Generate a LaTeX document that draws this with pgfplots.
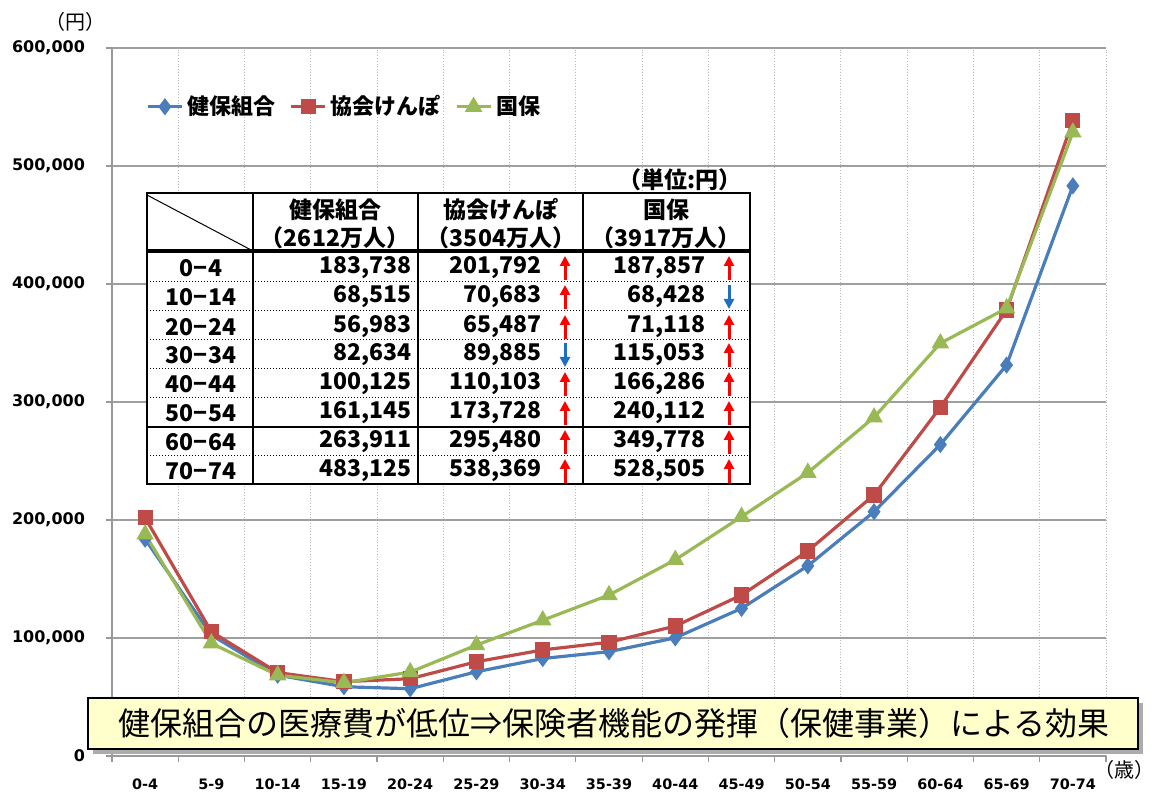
\documentclass[border=0pt]{standalone}
\usepackage{fontspec}
\setmainfont{DejaVu Sans}
\newfontfamily\jp{Noto Sans CJK JP}
\usepackage{pgfplots}
\pgfplotsset{compat=1.18}
\usetikzlibrary{arrows.meta}

\definecolor{kblue}{HTML}{4A7EBB}
\definecolor{kred}{HTML}{BE4B48}
\definecolor{kgreen}{HTML}{98B954}
\definecolor{arrblue}{HTML}{1F6FC0}
\definecolor{boxy}{HTML}{FFFFCC}

% one row of the inset table (pixel coordinates, y down)
\newcommand{\trow}[7]{%
  \node[tt] at (201,#1) {#2};
  \node[tt,anchor=east] at (412,#1) {#3};
  \node[tt,anchor=east] at (542,#1) {#4};
  \draw[#5] (565,#1+12) -- (565,#1-12);
  \node[tt,anchor=east] at (706,#1) {#6};
  \draw[#7] (729,#1+12) -- (729,#1-12);
}

\begin{document}
\begin{tikzpicture}
\path[use as bounding box] (0,0) rectangle (576pt,399pt);

\begin{axis}[
  at={(56pt,21pt)}, anchor=south west,
  scale only axis, width=497pt, height=354pt,
  xmin=-0.5, xmax=14.5, ymin=0, ymax=600000,
  axis x line*=bottom, axis y line*=left,
  axis line style={gray!80, line width=0.6pt},
  xtick={0,...,14},
  xticklabels={0-4,5-9,10-14,15-19,20-24,25-29,30-34,35-39,40-44,45-49,50-54,55-59,60-64,65-69,70-74},
  major x tick style={draw=none},
  minor xtick={-0.5,0.5,...,14.5},
  xminorgrids, minor x grid style={gray!55, densely dotted, line width=0.5pt},
  ytick={0,100000,...,600000},
  ymajorgrids, major y grid style={gray!75, line width=0.6pt},
  tick align=outside, major tick length=3pt, minor tick length=3pt,
  tick style={gray!80, line width=0.6pt},
  scaled y ticks=false,
  /pgf/number format/.cd, fixed, 1000 sep={,}, assume math mode=true, /pgfplots/.cd,
  ticklabel style={font=\bfseries\fontsize{8}{9}\selectfont},
  yticklabel style={xshift=-7pt},
  xticklabel style={yshift=-5pt, font=\bfseries\fontsize{7.2}{9}\selectfont},
  legend style={at={(0.028,0.917)}, anchor=west, draw=none, fill=none,
    font=\jp\bfseries\fontsize{11}{13}\selectfont,
    /tikz/every even column/.append style={column sep=5pt}},
  legend columns=-1,
]
\addplot[color=kblue, line width=1.6pt, mark=diamond*, mark size=3pt, mark options={solid}] coordinates {
 (0,183738) (1,102500) (2,68515) (3,58700) (4,56983) (5,71400) (6,82634) (7,88400)
 (8,100125) (9,125100) (10,161145) (11,207000) (12,263911) (13,331300) (14,483125)};
\addlegendentry{健保組合}
\addplot[color=kred, line width=1.6pt, mark=square*, mark size=3pt, mark options={solid}] coordinates {
 (0,201792) (1,105300) (2,70683) (3,63000) (4,65487) (5,79900) (6,89885) (7,96400)
 (8,110103) (9,136400) (10,173728) (11,221200) (12,295480) (13,378000) (14,538369)};
\addlegendentry{協会けんぽ}
\addplot[color=kgreen, line width=1.6pt, mark=triangle*, mark size=3.5pt, mark options={solid}] coordinates {
 (0,187857) (1,95500) (2,68428) (3,62100) (4,71118) (5,94000) (6,115053) (7,136400)
 (8,166286) (9,202800) (10,240112) (11,287000) (12,349778) (13,379500) (14,528505)};
\addlegendentry{国保}
\end{axis}

\begin{scope}[x=0.5pt, y=-0.5pt, shift={(0,399pt)},
  tt/.style={font=\jp\bfseries\fontsize{11.5}{13}\selectfont, inner sep=0pt},
  up/.style={red, line width=1.5pt, -{Triangle[length=5pt,width=5pt]}},
  dn/.style={arrblue, line width=1.5pt, {Triangle[length=5pt,width=5pt]}-}]
  % axis unit labels
  \node[font=\jp\fontsize{10}{11}\selectfont] at (76,22) {（円）};
  \node[font=\jp\fontsize{10}{11}\selectfont] at (1124,770) {（歳）};

  % inset table
  \fill[white] (147,193) rectangle (750,484);
  \node[tt, anchor=east] at (742,180) {（単位:円）};
  \foreach \yy in {282,311,340,369,398,456}
    \draw[densely dotted, line width=0.5pt] (147,\yy) -- (750,\yy);
  \draw[line width=1.6pt] (147,251) -- (750,251);
  \draw[line width=1.3pt] (147,427) -- (750,427);
  \foreach \xx in {253,418,583}
    \draw[line width=0.7pt] (\xx,193) -- (\xx,484);
  \draw[line width=0.9pt] (147,193) rectangle (750,484);
  \draw[line width=0.5pt] (147,195) -- (253,251);
  \node[tt] at (335,210) {健保組合};
  \node[tt] at (335,238) {（2612万人）};
  \node[tt] at (501,210) {協会けんぽ};
  \node[tt] at (501,238) {（3504万人）};
  \node[tt] at (666,210) {国保};
  \node[tt] at (666,238) {（3917万人）};
  \trow{268}{0−4}{183,738}{201,792}{up}{187,857}{up}
  \trow{297}{10−14}{68,515}{70,683}{up}{68,428}{dn}
  \trow{327}{20−24}{56,983}{65,487}{up}{71,118}{up}
  \trow{355}{30−34}{82,634}{89,885}{dn}{115,053}{up}
  \trow{384}{40−44}{100,125}{110,103}{up}{166,286}{up}
  \trow{413}{50−54}{161,145}{173,728}{up}{240,112}{up}
  \trow{442}{60−64}{263,911}{295,480}{up}{349,778}{up}
  \trow{471}{70−74}{483,125}{538,369}{up}{528,505}{up}

  % message box
  \fill[gray!65] (93,703) rectangle (1143,754);
  \draw[fill=boxy, line width=1.2pt] (88,698) rectangle (1138,749);
  \node[font=\jp\fontsize{16}{18}\selectfont] at (614,723) {健保組合の医療費が低位⇒保険者機能の発揮（保健事業）による効果};
\end{scope}
\end{tikzpicture}
\end{document}
